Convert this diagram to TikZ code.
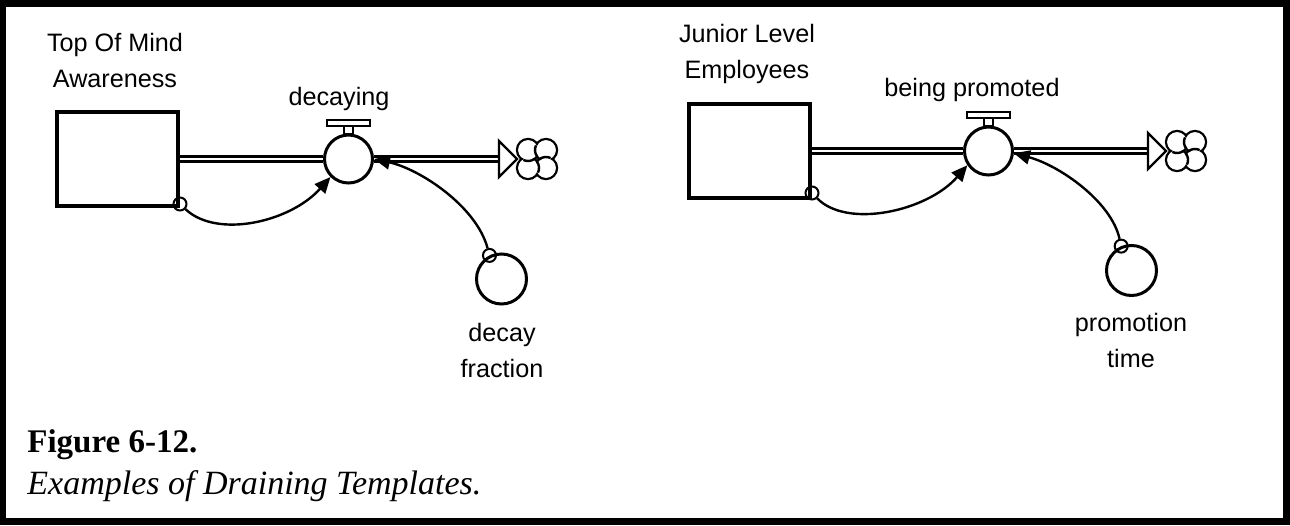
\documentclass[tikz,border=0pt]{standalone}
\usepackage{fontspec}
\setmainfont{Liberation Serif}
\newfontfamily\arialfont{Liberation Sans}
\usetikzlibrary{arrows.meta}
\tikzset{
stock/.style={draw,line width=2pt,minimum width=60.5pt,minimum height=47pt,inner sep=0pt},
valve/.style={draw,circle,line width=1.5pt,fill=white,minimum size=24pt,inner sep=0pt},
aux/.style={draw,circle,line width=1.5pt,minimum size=25pt,inner sep=0pt},
tap/.style={draw,circle,line width=1pt,minimum size=6.5pt,inner sep=0pt},
pipe/.style={double,double distance=1.4pt,line width=1.2pt},
link/.style={line width=1.2pt,-{Triangle[length=8pt,width=7pt]}},
lbl/.style={font=\arialfont\fontsize{12.6}{18}\selectfont,align=center,anchor=base,inner sep=0pt}
}
\begin{document}
\begin{tikzpicture}[x=0.5pt,y=-0.5pt]
\fill(0,0)rectangle(1290,525);
\fill[white](6,7)rectangle(1283,518);
\node[stock](awareness)at(117.5,159){};
\node[stock](employees)at(749.5,151){};
\node[valve](decaying)at(348.5,159){};
\node[valve](promoted)at(988.5,151){};
\node[aux](decayfrac)at(501.5,279){};
\node[aux](promtime)at(1131.5,270.5){};
\coordinate(cloudA)at(537,159);
\coordinate(cloudB)at(1186,151);
\node[tap](tapA)at([yshift=2pt]awareness.south east){};
\node[tap](tapB)at(decayfrac.117){};
\node[tap](tapC)at([yshift=3.5pt]employees.south east){};
\node[tap](tapD)at(promtime.113){};
\node[lbl](awarenessLbl)at(115,87){Top Of Mind\\Awareness};
\node[lbl](decayingLbl)at(339,105){decaying};
\node[lbl](decayfracLbl)at(502,377){decay\\fraction};
\node[lbl](employeesLbl)at(747,78){Junior Level\\Employees};
\node[lbl](promotedLbl)at(972,96){being promoted};
\node[lbl](promtimeLbl)at(1131,367){promotion\\time};
\draw[pipe](awareness.east)--(decaying.west);
\draw[pipe](decaying.east)--([xshift=-19pt]cloudA);
\draw[pipe](employees.east)--(promoted.west);
\draw[pipe](promoted.east)--([xshift=-19pt]cloudB);
\foreach \c in {cloudA,cloudB}{
\draw[line width=1.2pt,fill=white]([xshift=-19pt,yshift=9pt]\c)--([xshift=-10pt]\c)--([xshift=-19pt,yshift=-9pt]\c)--cycle;
\foreach \a in {45,135,225,315}{\draw[line width=1.2pt](\c)++(\a:12.7)circle(11);}
\foreach \a in {45,135,225,315}{\fill[white](\c)++(\a:12.7)circle(9.8);}
\foreach \a [evaluate=\a as \s using \a+190,evaluate=\a as \e using \a+250] in {45,135,225,315}{
\draw[line width=1.2pt](\c)++(\a:12.7)++(\s:11)arc[start angle=\s,end angle=\e,radius=11];}
}
\foreach \v in {decaying,promoted}{
\draw[line width=1pt,fill=white]([xshift=-2.25pt]\v.north)rectangle([xshift=2.25pt,yshift=4pt]\v.north);
\draw[line width=1pt,fill=white]([xshift=-10.75pt,yshift=4pt]\v.north)rectangle([xshift=10.75pt,yshift=7pt]\v.north);
}
\draw[link](tapA)..controls +(37,35) and +(-40,45)..(decaying.225);
\draw[link](tapB)..controls +(-13,-49) and +(46,10)..(decaying.east);
\draw[link](tapC)..controls +(35,36) and +(-40,46)..(promoted.214);
\draw[link](tapD)..controls +(-10,-45) and +(45,12)..(promoted.-5);
\node[anchor=base west,inner sep=0pt,font=\bfseries\fontsize{16.5}{20}\selectfont](figno)at(27,452){Figure 6-12.};
\node[anchor=base west,inner sep=0pt,font=\itshape\fontsize{17}{20}\selectfont](figcap)at(27,494){Examples of Draining Templates.};
\end{tikzpicture}
\end{document}
